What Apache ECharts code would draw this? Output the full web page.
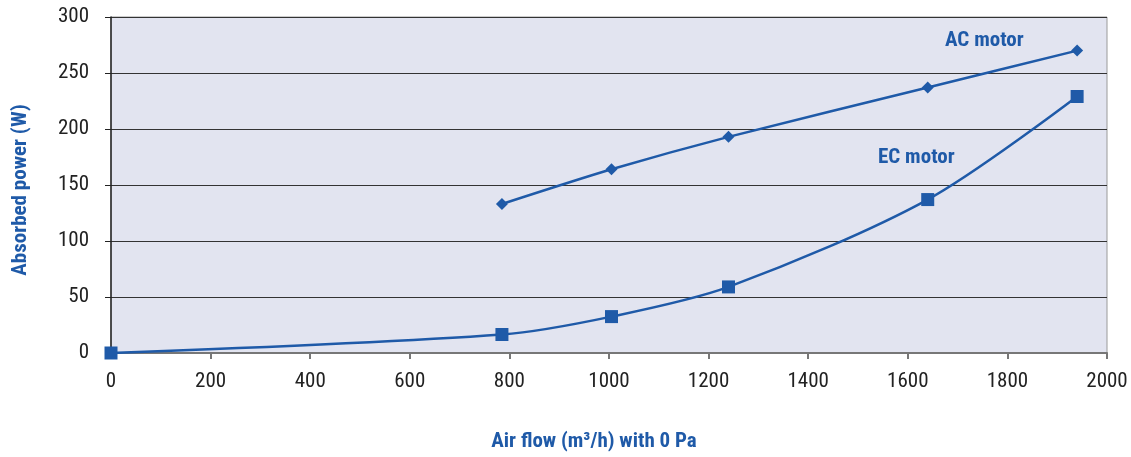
<!DOCTYPE html>
<html>
<head>
<meta charset="utf-8">
<script src="https://cdn.jsdelivr.net/npm/echarts@6/dist/echarts.min.js"></script>
<style>html,body{margin:0;padding:0;background:#fff}#c{width:1131px;height:457px}</style>
</head>
<body>
<div id="c"></div>
<script>
const acFlow = [785, 1005, 1240, 1640, 1940];
const acPower = [133, 164, 193, 237, 270];
const ecFlow = [0, 785, 1005, 1240, 1640, 1940];
const ecPower = [0, 16.5, 32.5, 59, 137, 229];
const xTicks = [0, 200, 400, 600, 800, 1000, 1200, 1400, 1600, 1800, 2000];
const yTicks = [0, 50, 100, 150, 200, 250, 300];

const FONT = '"Liberation Sans Narrow", "Roboto Condensed", "DejaVu Sans Condensed", sans-serif';
const BLUE = '#1f5aa8';

const chart = echarts.init(document.getElementById('c'), null, {renderer: 'canvas'});
chart.setOption({
  animation: false,
  backgroundColor: '#ffffff',
  grid: {left: 111, right: 24, top: 17, bottom: 104, show: true,
         backgroundColor: '#e2e4f0', borderColor: '#9a9a9a', borderWidth: 1},
  xAxis: {
    type: 'value', min: xTicks[0], max: xTicks[xTicks.length - 1], interval: 200,
    name: 'Air flow (m³/h) with 0 Pa', nameLocation: 'middle', nameGap: 78,
    nameTextStyle: {color: BLUE, fontFamily: FONT, fontWeight: 'bold', fontSize: 21,
                    padding: [0, 30, 0, 0]},
    axisLine: {show: true, lineStyle: {color: '#777', width: 2}},
    axisTick: {show: true, length: 6, lineStyle: {color: '#777', width: 2}},
    axisLabel: {color: '#222', fontFamily: FONT, fontSize: 21, margin: 18,
                formatter: v => String(v)},
    splitLine: {show: false}
  },
  yAxis: {
    type: 'value', min: yTicks[0], max: yTicks[yTicks.length - 1], interval: 50,
    name: 'Absorbed power (W)', nameLocation: 'middle', nameGap: 80, nameRotate: 90,
    nameTextStyle: {color: BLUE, fontFamily: FONT, fontWeight: 'bold', fontSize: 21,
                    padding: [0, 10, 0, 0]},
    axisLine: {show: true, lineStyle: {color: '#222', width: 1.5}},
    axisTick: {show: true, length: 6, lineStyle: {color: '#222'}},
    axisLabel: {color: '#222', fontFamily: FONT, fontSize: 21, margin: 22,
                formatter: v => String(v)},
    splitLine: {show: true, lineStyle: {color: '#333', width: 1}}
  },
  series: [
    {
      name: 'AC motor', type: 'line', smooth: 0.25,
      data: acFlow.map((x, i) => [x, acPower[i]]),
      symbol: 'diamond', symbolSize: 12,
      lineStyle: {color: BLUE, width: 2.5}, itemStyle: {color: BLUE},
      z: 3
    },
    {
      name: 'EC motor', type: 'line', smooth: 0.3,
      data: ecFlow.map((x, i) => [x, ecPower[i]]),
      symbol: 'rect', symbolSize: 13,
      lineStyle: {color: BLUE, width: 2.5}, itemStyle: {color: BLUE},
      z: 3
    }
  ],
  graphic: [
    {type: 'text', left: 945, top: 30, style: {text: 'AC motor', fill: BLUE,
      font: 'bold 21px ' + FONT}},
    {type: 'text', left: 878, top: 147, style: {text: 'EC motor', fill: BLUE,
      font: 'bold 21px ' + FONT}}
  ]
});
</script>
</body>
</html>
